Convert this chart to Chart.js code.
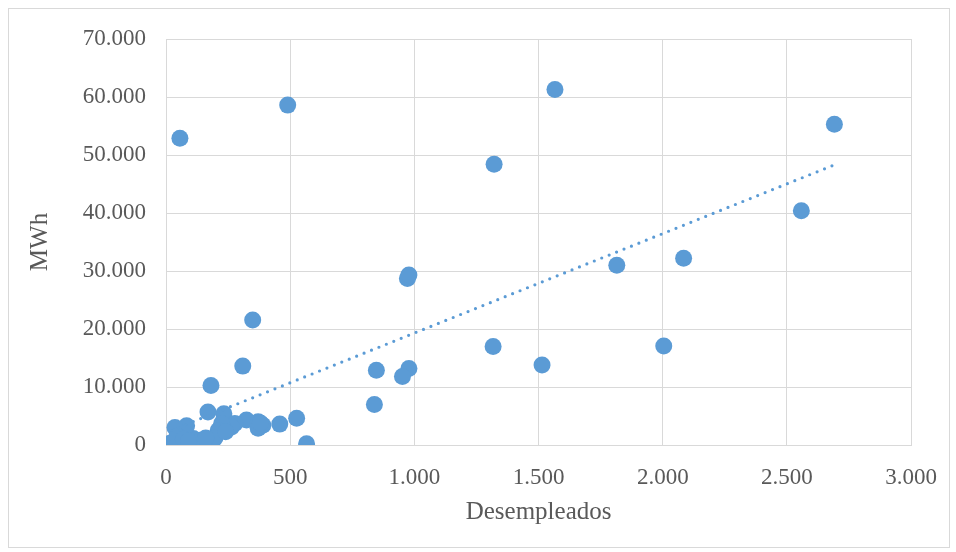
<!DOCTYPE html>
<html>
<head>
<meta charset="utf-8">
<script src="https://cdn.jsdelivr.net/npm/chart.js@4/dist/chart.umd.min.js"></script>
<style>
  html, body { margin: 0; padding: 0; background: #ffffff; }
  #wrap { width: 956px; height: 552px; position: relative; }
</style>
</head>
<body>
<div id="wrap"><canvas id="c" width="956" height="552"></canvas></div>
<script>
// Desempleados (x) vs consumo en MWh (y), one entry per municipio
const desempleados = [
  56, 490, 1566, 2691, 1321, 2558, 972, 978, 1815, 2084,
  349, 309, 1317, 2004, 1514, 978, 952, 847, 839, 181,
  566, 526, 458, 169, 233, 324, 371, 371, 277, 264,
  224, 210, 197, 137, 110, 83, 36, 30, 56, 20,
  45, 70, 90, 240, 160, 390, 380
];
const mwh = [
  52900, 58600, 61300, 55300, 48400, 40400, 28700, 29300, 31000, 32200,
  21550, 13600, 17000, 17050, 13800, 13200, 11800, 12900, 7000, 10250,
  200, 4600, 3600, 5700, 5400, 4300, 4000, 2900, 3700, 3100,
  3700, 2500, 1200, 800, 1100, 3300, 3000, 500, 300, 400,
  1500, 1000, 700, 2300, 1200, 3400, 3800
];
// Linear trend line (end points)
const trendX = [20, 2691];
const trendY = [2500, 48300];

const xTicks = [0, 500, 1000, 1500, 2000, 2500, 3000];
const yTicks = [0, 10000, 20000, 30000, 40000, 50000, 60000, 70000];

const points = desempleados.map((x, i) => ({ x: x, y: mwh[i] }));
const trend = trendX.map((x, i) => ({ x: x, y: trendY[i] }));

const fmt = v => Math.round(v).toString().replace(/\B(?=(\d{3})+(?!\d))/g, '.');
const textColor = '#595959';
const gridColor = '#d9d9d9';
const serif = "'Liberation Serif', 'Times New Roman', serif";

// outer frame of the chart area
const frame = {
  id: 'frame',
  afterDraw(chart) {
    const ctx = chart.ctx;
    ctx.save();
    ctx.strokeStyle = gridColor;
    ctx.lineWidth = 1;
    ctx.strokeRect(8.5, 8.5, 941, 539);
    ctx.restore();
  }
};

new Chart(document.getElementById('c'), {
  type: 'scatter',
  data: {
    datasets: [
      {
        type: 'line',
        data: trend,
        borderColor: '#5b9bd5',
        borderWidth: 3.2,
        borderDash: [0, 8],
        borderCapStyle: 'round',
        pointRadius: 0,
        fill: false,
        tension: 0
      },
      {
        data: points,
        backgroundColor: '#5b9bd5',
        borderColor: '#5b9bd5',
        borderWidth: 0,
        pointRadius: 8.5,
        pointHoverRadius: 8.5
      }
    ]
  },
  options: {
    responsive: false,
    animation: false,
    devicePixelRatio: 1,
    layout: { padding: { left: 0, top: 39, right: 44, bottom: 0 } },
    plugins: { legend: { display: false }, tooltip: { enabled: false } },
    scales: {
      x: {
        type: 'linear',
        min: 0, max: 3000,
        afterBuildTicks: s => { s.ticks = xTicks.map(v => ({ value: v })); },
        afterFit: s => { s.height = 107; },
        grid: { color: gridColor, lineWidth: 1, drawTicks: false },
        border: { color: gridColor, width: 1 },
        ticks: {
          color: textColor, padding: 19,
          font: { family: serif, size: 23 },
          callback: v => fmt(v),
          maxRotation: 0
        },
        title: {
          display: true, text: 'Desempleados', color: textColor,
          font: { family: serif, size: 25 },
          padding: { top: 0, bottom: 25 }
        }
      },
      y: {
        type: 'linear',
        min: 0, max: 70000,
        afterBuildTicks: s => { s.ticks = yTicks.map(v => ({ value: v })); },
        afterFit: s => { s.width = 166; },
        grid: { color: gridColor, lineWidth: 1, drawTicks: false },
        border: { color: gridColor, width: 1 },
        ticks: {
          color: textColor, padding: 20,
          font: { family: serif, size: 23 },
          callback: v => fmt(v)
        },
        title: {
          display: true, text: 'MWh', color: textColor,
          font: { family: serif, size: 25 },
          padding: { top: 25, bottom: 0 }
        }
      }
    }
  },
  plugins: [frame]
});
</script>
</body>
</html>
